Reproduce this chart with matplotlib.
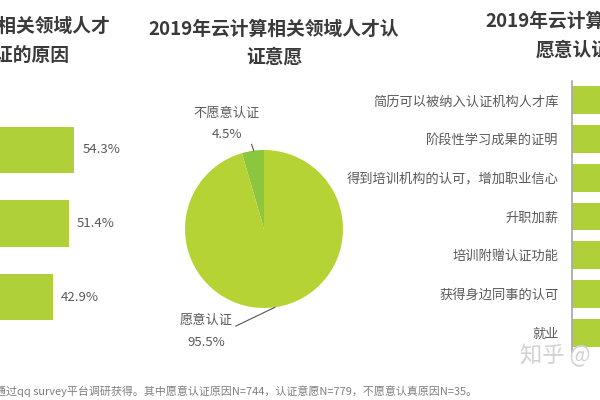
import matplotlib
matplotlib.use('Agg')
import matplotlib.pyplot as plt
import numpy as np

plt.rcParams['font.family'] = ['Noto Sans CJK SC', 'DejaVu Sans']

# left panel: reasons for not certifying (labels cut off in the picture)
left_vals = [54.3, 51.4, 42.9]

# middle panel: willingness pie
pie_labels = ['不愿意认证', '愿意认证']
pie_vals = [4.5, 95.5]

# right panel: reasons for certifying (values cut off, estimated)
right_cats = ['简历可以被纳入认证机构人才库', '阶段性学习成果的证明', '得到培训机构的认可，增加职业信心',
              '升职加薪', '培训附赠认证功能', '获得身边同事的认可', '就业']
right_vals = [60.0, 55.0, 50.0, 45.0, 40.0, 35.0, 30.0]

W, H = 600, 400
fig = plt.figure(figsize=(6, 4), dpi=100)

def px(x0, y0, x1, y1):
    # pixel box (top-left origin) -> figure fraction rect
    return [x0 / W, 1 - y1 / H, (x1 - x0) / W, (y1 - y0) / H]

bar_c = '#b0d03a'
txt_c = '#595959'
title_c = '#3a3a3a'

# ---- left bars
ax1 = fig.add_axes(px(-26, 113, 158, 334))
y = np.arange(len(left_vals))
ax1.barh(y, left_vals, 0.63, color=bar_c)
for yi, v in zip(y, left_vals):
    ax1.text(v + 4.5, yi, '{}%'.format(v), va='center', ha='left', fontsize=9.5, color=txt_c)
ax1.set_xlim(0, 100)
ax1.set_ylim(2.5, -0.5)
ax1.axis('off')

# ---- middle pie
ax2 = fig.add_axes(px(185, 150, 343, 308))
ax2.pie(pie_vals, colors=['#8cc63e', '#b5d334'], startangle=90, counterclock=True,
        wedgeprops=dict(linewidth=0))
ax2.set_aspect('equal')
ax2.set_xlim(-1, 1)
ax2.set_ylim(-1, 1)
ax2.axis('off')
# labels with leader lines
ax2.annotate(pie_labels[0] + '\n' + '{}%'.format(pie_vals[0]), xy=(-0.13, 0.99),
             xytext=(-0.47, 1.33), ha='center', va='center', fontsize=9.5, color=txt_c,
             linespacing=1.9, annotation_clip=False,
             arrowprops=dict(arrowstyle='-', color='#555555', lw=0.8, shrinkA=0, shrinkB=0,
                             relpos=(0.78, 0.45)))
ax2.annotate(pie_labels[1] + '\n' + '{}%'.format(pie_vals[1]), xy=(0.14, -0.99),
             xytext=(-0.73, -1.3), ha='center', va='center', fontsize=9.5, color=txt_c,
             linespacing=1.9, annotation_clip=False,
             arrowprops=dict(arrowstyle='-', color='#555555', lw=0.8, shrinkA=0, shrinkB=0,
                             relpos=(1.0, 0.62)))

# ---- right bars
ax3 = fig.add_axes(px(572, 81, 800, 352))
yr = np.arange(len(right_cats))
ax3.barh(yr, right_vals, 0.72, color=bar_c)
ax3.set_xlim(0, 70)
ax3.set_ylim(len(right_cats) - 0.5, -0.5)
ax3.set_yticks(yr)
ax3.set_yticklabels(right_cats, fontsize=9.5, color=txt_c)
ax3.tick_params(axis='y', length=0, pad=9.4)
ax3.set_xticks([])
for s in ['top', 'right', 'bottom']:
    ax3.spines[s].set_visible(False)
ax3.spines['left'].set_color('#a6a6a6')
ax3.spines['left'].set_linewidth(1.2)

# ---- titles
fig.text(-6 / W, 1 - 41 / H, '2019年云计算相关领域人才\n不愿意认证的原因', ha='center', va='center',
         fontsize=13.5, fontweight='bold', color=title_c, linespacing=1.65)
fig.text(274 / W, 1 - 43 / H, '2019年云计算相关领域人才认\n证意愿', ha='center', va='center',
         fontsize=13.5, fontweight='bold', color=title_c, linespacing=1.6)
fig.text(601 / W, 1 - 36 / H, '2019年云计算相关领域人才\n愿意认证的原因', ha='center', va='center',
         fontsize=13.5, fontweight='bold', color=title_c, linespacing=1.65)

# ---- footnote and watermark
fig.text(-5 / W, 1 - 391 / H,
         '通过qq survey平台调研获得。其中愿意认证原因N=744，认证意愿N=779，不愿意认真原因N=35。',
         ha='left', va='center', fontsize=7.9, color='#7f7f7f')
fig.text(520 / W, 1 - 356 / H, '知乎 @', ha='left', va='center', fontsize=16,
         color='#d2d2d2')

fig.savefig('out.png', dpi=100)
